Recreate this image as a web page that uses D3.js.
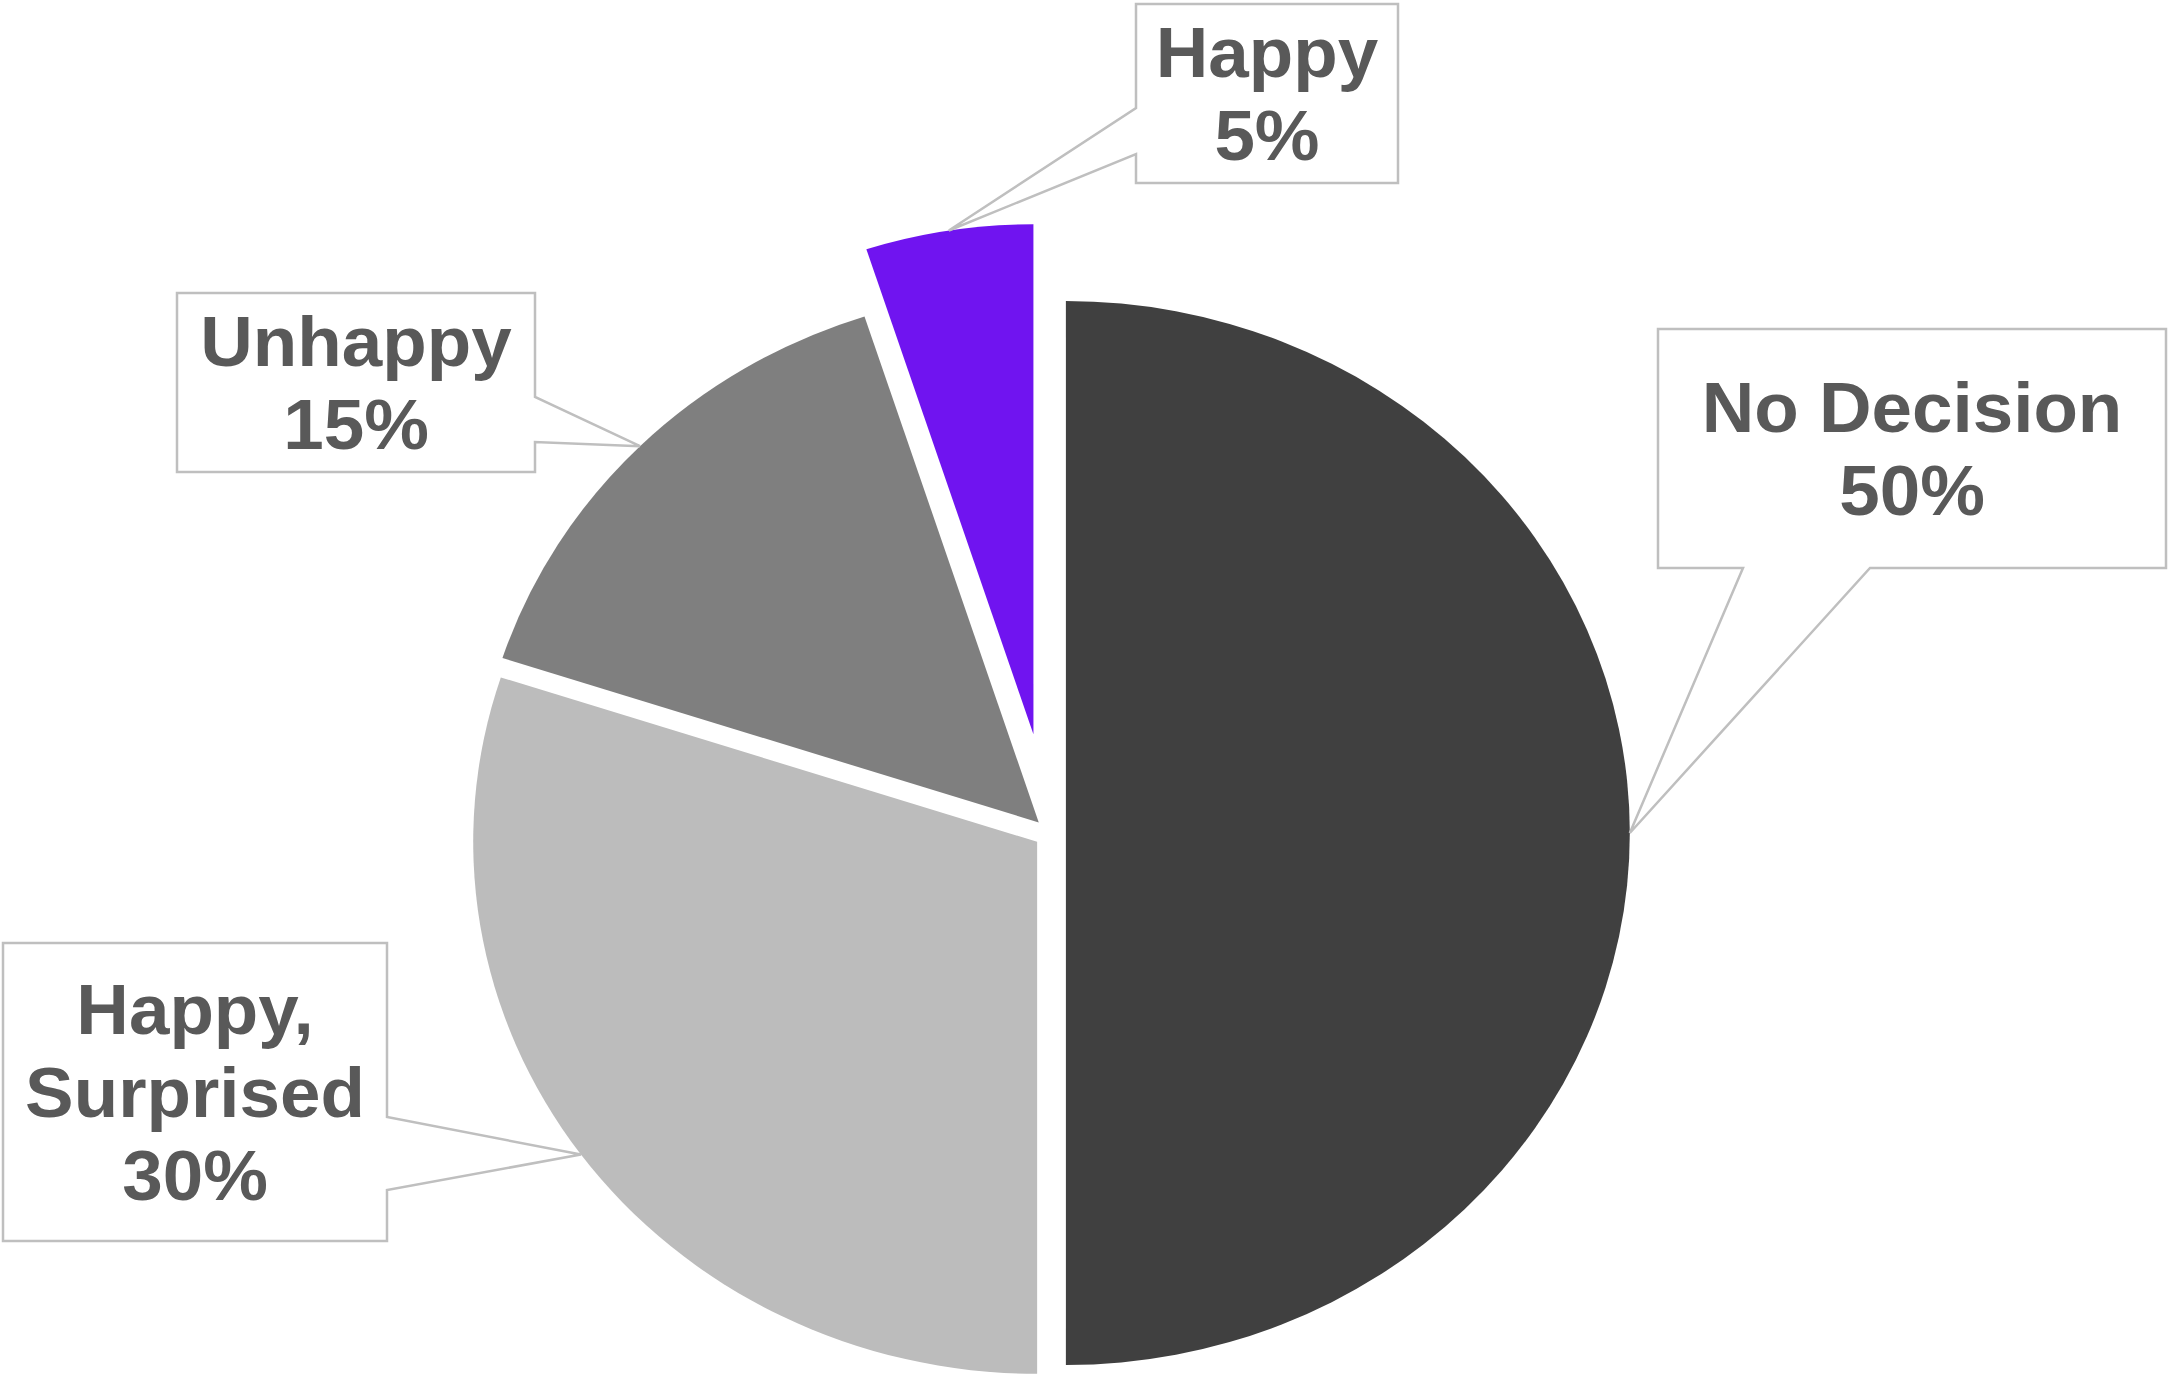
<!DOCTYPE html>
<html>
<head>
<meta charset="utf-8">
<script src="https://cdnjs.cloudflare.com/ajax/libs/d3/7.8.5/d3.min.js"></script>
<style>
  html, body { margin: 0; padding: 0; background: #fff; }
  .callout { fill: #fff; stroke: #BFBFBF; stroke-width: 2.5; }
  .calloutText { font-family: "Liberation Sans", Arial, sans-serif; font-weight: bold;
                 font-size: 70px; fill: #595959; }
</style>
</head>
<body>
<svg id="chart" width="2170" height="1374"></svg>
<script>
// data
var categories = ["No Decision", "Happy, Surprised", "Unhappy", "Happy"];
var values = [50, 30, 15, 5];
var labelLines = [["No Decision"], ["Happy,", "Surprised"], ["Unhappy"], ["Happy"]];
var colors = ["#404040", "#BCBCBC", "#7F7F7F", "#7014F0"];

// layout (picture was a bit wider than tall, hence sx)
var cx = 1050, cy = 833, sx = 1.06;
var radius = 532;
var explode = [15, 15, 15, 100];
var radii = [radius, radius, radius, 510];

// callout boxes: x0,y0,x1,y1, which side the pointer leaves from, and where on that side
var boxes = [
    {x0: 1658, y0: 329, x1: 2166, y1: 568, side: "bottom", a: 1743, b: 1870},
    {x0: 3,    y0: 943, x1: 387,  y1: 1241, side: "right", a: 1117, b: 1190},
    {x0: 177,  y0: 293, x1: 535,  y1: 472,  side: "right", a: 397,  b: 442},
    {x0: 1136, y0: 4,   x1: 1398, y1: 183,  side: "left",  a: 108,  b: 154}
];
var lineH = 83, capH = 50, textSx = 1.04;

var svg = d3.select("#chart");
var total = d3.sum(values);
var pct = function(v) { return Math.round(v / total * 100) + "%"; };

var pie = d3.pie().sort(null).value(function(d) { return d; });
var arcs = pie(values);

var pieG = svg.append("g")
    .attr("transform", "translate(" + cx + "," + cy + ") scale(" + sx + ",1)");

pieG.selectAll("path.slice")
    .data(arcs)
    .enter().append("path")
    .attr("class", "slice")
    .attr("fill", function(d, i) { return colors[i]; })
    .attr("transform", function(d, i) {
        var mid = (d.startAngle + d.endAngle) / 2;
        return "translate(" + (Math.sin(mid) * explode[i]) + "," + (-Math.cos(mid) * explode[i]) + ")";
    })
    .attr("d", function(d, i) {
        return d3.arc().innerRadius(0).outerRadius(radii[i])(d);
    });

// where each callout points: outer edge of the slice, on its bisector
function tip(d, i) {
    var mid = (d.startAngle + d.endAngle) / 2;
    var r = radii[i] + explode[i];
    return [cx + sx * Math.sin(mid) * r, cy - Math.cos(mid) * r];
}

function calloutPath(bx, t) {
    var p;
    if (bx.side == "bottom")
        p = [[bx.x0, bx.y0], [bx.x1, bx.y0], [bx.x1, bx.y1], [bx.b, bx.y1], t, [bx.a, bx.y1], [bx.x0, bx.y1]];
    else if (bx.side == "right")
        p = [[bx.x0, bx.y0], [bx.x1, bx.y0], [bx.x1, bx.a], t, [bx.x1, bx.b], [bx.x1, bx.y1], [bx.x0, bx.y1]];
    else // left
        p = [[bx.x0, bx.y0], [bx.x1, bx.y0], [bx.x1, bx.y1], [bx.x0, bx.y1], [bx.x0, bx.b], t, [bx.x0, bx.a]];
    return "M" + p.map(function(q) { return q[0] + "," + q[1]; }).join("L") + "Z";
}

var labels = svg.selectAll("g.label")
    .data(arcs)
    .enter().append("g")
    .attr("class", "label");

labels.append("path")
    .attr("class", "callout")
    .attr("stroke-linejoin", "miter")
    .attr("d", function(d, i) { return calloutPath(boxes[i], tip(d, i)); });

labels.each(function(d, i) {
    var bx = boxes[i];
    var lines = labelLines[i].concat([pct(d.value)]);
    var midX = (bx.x0 + bx.x1) / 2, midY = (bx.y0 + bx.y1) / 2;
    var blockH = capH + (lines.length - 1) * lineH;
    var first = midY - blockH / 2 + capH;
    // glyphs in the original are slightly wide, same stretch as the pie
    var t = d3.select(this).append("text")
        .attr("class", "calloutText")
        .attr("text-anchor", "middle")
        .attr("transform", "translate(" + midX + ",0) scale(" + textSx + ",1)");
    lines.forEach(function(s, k) {
        t.append("tspan")
            .attr("x", 0)
            .attr("y", first + k * lineH)
            .text(s);
    });
});
</script>
</body>
</html>
